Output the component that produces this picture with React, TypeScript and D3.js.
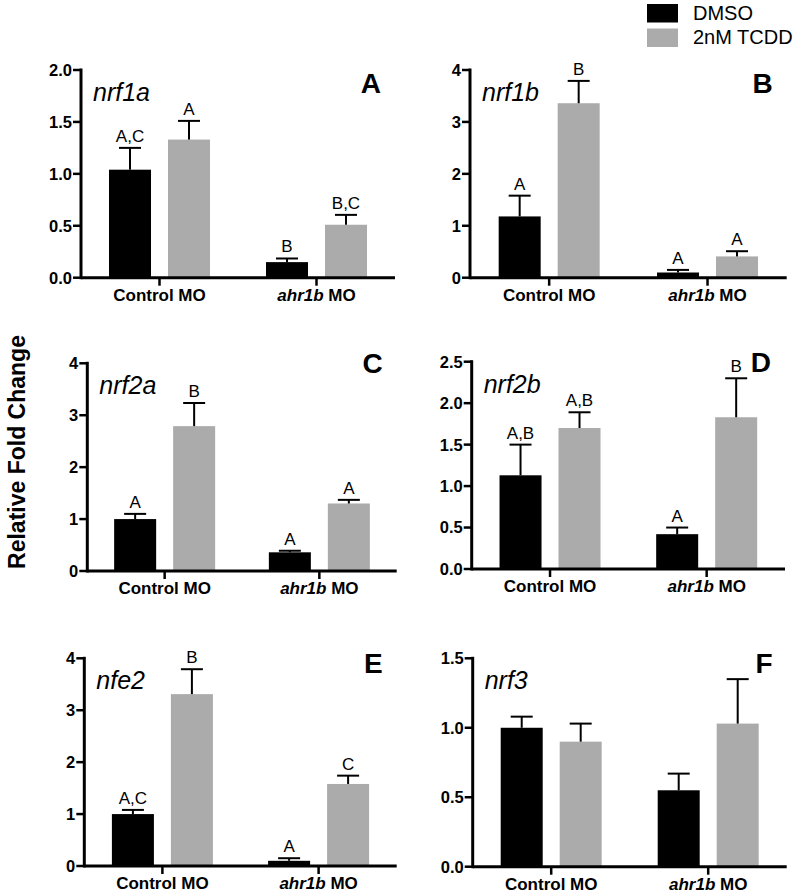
import React from "react";
import * as d3 from "d3";

// ---- data ----
const groups = ["Control MO", "ahr1b MO"];
const series = ["DMSO", "2nM TCDD"];
const genes = ["nrf1a", "nrf1b", "nrf2a", "nrf2b", "nfe2", "nrf3"];
const panelLetters = ["A", "B", "C", "D", "E", "F"];
const yMax = [2.0, 4, 4, 2.5, 4, 1.5];
const yTickStep = [0.5, 1, 1, 0.5, 1, 0.5];
const yTickDecimals = [1, 0, 0, 1, 0, 1];

// means [Control MO, ahr1b MO]
const meanDMSO = [
  [1.04, 0.15],
  [1.18, 0.1],
  [1.0, 0.36],
  [1.13, 0.42],
  [1.0, 0.1],
  [1.0, 0.55],
];
const meanTCDD = [
  [1.33, 0.51],
  [3.36, 0.41],
  [2.79, 1.3],
  [1.7, 1.83],
  [3.31, 1.58],
  [0.9, 1.03],
];
// SEM (upper error)
const semDMSO = [
  [0.21, 0.035],
  [0.4, 0.05],
  [0.1, 0.03],
  [0.37, 0.08],
  [0.08, 0.05],
  [0.08, 0.12],
];
const semTCDD = [
  [0.18, 0.095],
  [0.43, 0.1],
  [0.445, 0.07],
  [0.19, 0.47],
  [0.48, 0.16],
  [0.13, 0.32],
];
// significance letters
const sigDMSO = [
  ["A,C", "B"],
  ["A", "A"],
  ["A", "A"],
  ["A,B", "A"],
  ["A,C", "A"],
  ["", ""],
];
const sigTCDD = [
  ["A", "B,C"],
  ["B", "A"],
  ["B", "A"],
  ["A,B", "B"],
  ["B", "C"],
  ["", ""],
];

// ---- layout ----
const layout = [
  { left: 81, right: 395, top: 70, bottom: 277.7, letterDy: 23 },
  { left: 470, right: 786.7, top: 70, bottom: 277.7, letterDy: 23 },
  { left: 87.3, right: 396.7, top: 363.3, bottom: 571, letterDy: 10 },
  { left: 471.7, right: 785, top: 361.7, bottom: 569, letterDy: 10 },
  { left: 84.3, right: 396.7, top: 658.3, bottom: 866, letterDy: 15 },
  { left: 472.7, right: 786.7, top: 658.3, bottom: 866.7, letterDy: 15 },
];

const colors = ["#000000", "#ababab"];
const FONT = "'Liberation Sans', Arial, Helvetica, sans-serif";

function Panel({ i }: { i: number }) {
  const L = layout[i];
  const x0 = d3.scalePoint<string>().domain(groups).range([L.left, L.right]).padding(0.5);
  const x1 = d3
    .scaleBand<string>()
    .domain(series)
    .range([-50.5, 50.5])
    .paddingInner(0.288)
    .paddingOuter(0);
  const y = d3.scaleLinear().domain([0, yMax[i]]).range([L.bottom, L.top]);
  const ticks = d3.range(0, yMax[i] + 1e-9, yTickStep[i]);
  const fmt = d3.format(`.${yTickDecimals[i]}f`);
  const means = [meanDMSO[i], meanTCDD[i]];
  const sems = [semDMSO[i], semTCDD[i]];
  const sigs = [sigDMSO[i], sigTCDD[i]];
  const bw = x1.bandwidth();

  return (
    <g>
      {groups.map((g, gi) =>
        series.map((s, si) => {
          const cx = (x0(g) as number) + (x1(s) as number);
          const m = means[si][gi];
          const top = y(m + sems[si][gi]);
          return (
            <g key={g + s}>
              <rect x={cx} y={y(m)} width={bw} height={y(0) - y(m)} fill={colors[si]} />
              <line x1={cx + bw / 2} x2={cx + bw / 2} y1={y(m)} y2={top} stroke="#000" strokeWidth={2} />
              <line x1={cx + bw / 2 - 11} x2={cx + bw / 2 + 11} y1={top} y2={top} stroke="#000" strokeWidth={2} />
              {sigs[si][gi] && (
                <text
                  x={cx + bw / 2}
                  y={top - 6}
                  textAnchor="middle"
                  fontSize={17}
                  fontFamily={FONT}
                  fill="#000"
                >
                  {sigs[si][gi]}
                </text>
              )}
            </g>
          );
        })
      )}
      {/* y axis */}
      <line x1={L.left} x2={L.left} y1={y(yMax[i]) - 1.5} y2={L.bottom + 1.5} stroke="#000" strokeWidth={3} />
      {ticks.map((t) => (
        <g key={t}>
          <line x1={L.left - 8} x2={L.left} y1={y(t)} y2={y(t)} stroke="#000" strokeWidth={2.5} />
          <text
            x={L.left - 9}
            y={y(t)}
            dy="0.36em"
            textAnchor="end"
            fontSize={16.5}
            fontWeight="bold"
            fontFamily={FONT}
            fill="#000"
          >
            {fmt(t)}
          </text>
        </g>
      ))}
      {/* x axis */}
      <line x1={L.left} x2={L.right} y1={L.bottom} y2={L.bottom} stroke="#000" strokeWidth={3} />
      {groups.map((g) => (
        <g key={g}>
          <line
            x1={x0(g) as number}
            x2={x0(g) as number}
            y1={L.bottom}
            y2={L.bottom + 8}
            stroke="#000"
            strokeWidth={2.5}
          />
          <text
            x={x0(g) as number}
            y={L.bottom + 23}
            textAnchor="middle"
            fontSize={17}
            fontWeight="bold"
            fontFamily={FONT}
            fill="#000"
          >
            {g.startsWith("ahr1b") ? (
              <>
                <tspan fontStyle="italic">ahr1b</tspan>
                <tspan> MO</tspan>
              </>
            ) : (
              g
            )}
          </text>
        </g>
      ))}
      {/* gene label */}
      <text
        x={L.left + 12}
        y={L.top + 31}
        fontSize={25}
        fontStyle="italic"
        fontFamily={FONT}
        fill="#000"
      >
        {genes[i]}
      </text>
      {/* panel letter */}
      <text
        x={L.right - 14}
        y={L.top + L.letterDy}
        textAnchor="end"
        fontSize={28}
        fontWeight="bold"
        fontFamily={FONT}
        fill="#000"
      >
        {panelLetters[i]}
      </text>
    </g>
  );
}

export default function App() {
  return (
    <svg
      width={800}
      height={894}
      style={{ position: "absolute", left: 0, top: 0, background: "#fff" }}
    >
      <rect x={0} y={0} width={800} height={894} fill="#fff" />
      {layout.map((_, i) => (
        <Panel key={i} i={i} />
      ))}
      {/* y title */}
      <text
        transform="translate(25,452) rotate(-90)"
        textAnchor="middle"
        fontSize={23}
        fontWeight="bold"
        fontFamily={FONT}
        fill="#000"
      >
        Relative Fold Change
      </text>
      {/* legend */}
      {series.map((s, si) => (
        <g key={s}>
          <rect x={647} y={4 + si * 24.5} width={31} height={18.5} fill={colors[si]} />
          <text x={693} y={19.5 + si * 24.7} fontSize={20} fontFamily={FONT} fill="#000">
            {s}
          </text>
        </g>
      ))}
    </svg>
  );
}
